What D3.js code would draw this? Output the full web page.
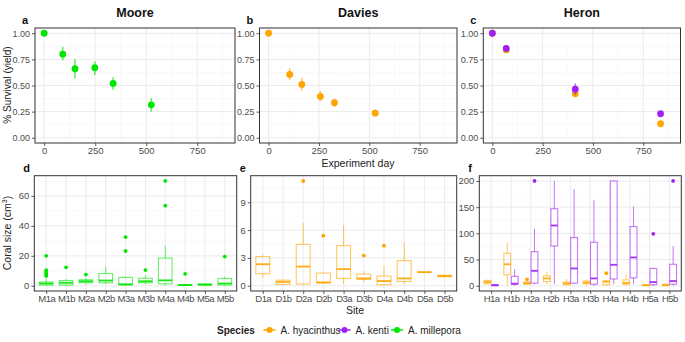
<!DOCTYPE html>
<html><head><meta charset="utf-8">
<script src="https://cdn.jsdelivr.net/npm/d3@7"></script>
<style>
body{margin:0;background:#fff;}
svg{font-family:"Liberation Sans",Arial,Helvetica,sans-serif;}
</style></head>
<body><svg id="c" width="685" height="342"></svg>
<script>
// ---------- DATA ----------
const colHy = "#FFA500", colKe = "#A020F0", colMi = "#00E600";
const dayTicks = [0, 250, 500, 750];
const survTicks = [0, 0.25, 0.5, 0.75, 1.0];
const survTickLabels = ["0.00", "0.25", "0.50", "0.75", "1.00"];

// Moore – A. millepora
const mooreDays = [0, 91, 151, 248, 338, 525];
const mooreMean = [1.00, 0.80, 0.66, 0.67, 0.52, 0.315];
const mooreLo   = [1.00, 0.74, 0.57, 0.60, 0.46, 0.25];
const mooreHi   = [1.00, 0.87, 0.75, 0.73, 0.58, 0.38];
// Davies – A. hyacinthus
const daviesDays = [0, 105, 165, 257, 327, 529];
const daviesMean = [1.00, 0.605, 0.51, 0.395, 0.335, 0.235];
const daviesLo   = [1.00, 0.55, 0.45, 0.35, 0.295, 0.21];
const daviesHi   = [1.00, 0.665, 0.575, 0.45, 0.375, 0.27];
// Heron – both species
const heronDays = [0, 69, 412, 836];
const heronHyMean = [1.00, 0.84, 0.42, 0.135];
const heronHyLo   = [1.00, 0.82, 0.39, 0.12];
const heronHyHi   = [1.00, 0.86, 0.45, 0.15];
const heronKeMean = [1.00, 0.855, 0.465, 0.23];
const heronKeLo   = [1.00, 0.83, 0.41, 0.21];
const heronKeHi   = [1.00, 0.88, 0.52, 0.25];

// Box plots: [lower whisker, q1, median, q3, upper whisker]
const mooreSites = ["M1a","M1b","M2a","M2b","M3a","M3b","M4a","M4b","M5a","M5b"];
const mooreBox = [[0,0.5,1.5,2.5,4.5],[0,0.5,2,3.5,4.5],[1,2,3,4,5],[1,2,3.5,8.2,12.7],[0,0.5,1,5.6,6],
                  [1,2,3,5,7],[0.3,1.3,3.6,18.5,26.8],[0,0.2,0.5,0.8,1],[0.3,0.4,0.8,1.2,1.4],[0,0.5,1.5,4.9,6]];
const mooreOut = [[20,10.5,9.5,8.5,7.5,6.5],[12.3],[7.5],[],[32.5,23.2],[10.5],[70,53.5],[8],[],[19.5]];
const mooreYTicks = [0, 20, 40, 60];

const daviesSites = ["D1a","D1b","D2a","D2b","D3a","D3b","D4a","D4b","D5a","D5b"];
const daviesBox = [[0.9,1.29,2.32,3.14,3.4],[0.1,0.14,0.4,0.6,0.7],[0.1,0.18,2.07,4.46,6.8],[0.25,0.29,0.36,1.36,1.4],
                   [0.18,0.79,1.79,4.32,6.5],[0.4,0.68,0.79,1.25,1.54],[0.05,0.1,0.5,1.04,2.14],[0.18,0.46,0.79,2.71,4.68],
                   [1.44,1.45,1.46,1.48,1.5],[0.95,0.97,1.05,1.13,1.15]];
const daviesOut = [[],[],[11.3],[5.4],[],[3.25],[4.32],[],[],[]];
const daviesYTicks = [0, 3, 6, 9];

const heronSites = ["H1a","H1b","H2a","H2b","H3a","H3b","H4a","H4b","H5a","H5b"];
const heronHyBox = [[3,3.8,7,10,12],[0.6,21,41,62,82],[2,3,5,7,8],[3,8,14,19,26],[0,2,4.5,7,13],
                    [0,4,6,9,12],[0,2,8,9,10],[0,3,5.5,11,22],[0,0.5,1,2,2.5],[0,0.5,1,3,3.5]];
const heronHyOut = [[],[],[12],[],[],[],[24],[],[],[]];
const heronKeBox = [[0,0.3,1,2,2.5],[0,3,4,18,32],[3,5,28.5,65,108],[3,76,115,147,200],[3,5,33,92,184],
                    [0,3,14,83,163],[3,13,40,200,200],[3,15,54,113,151],[0,2,7,33,34],[0,3,9,41,76]];
const heronKeOut = [[],[],[200],[],[],[],[],[],[99],[200]];
const heronYTicks = [0, 50, 100, 150, 200];

const legendLabels = ["A. hyacinthus", "A. kenti", "A. millepora"];
const legendColors = [colHy, colKe, colMi];

// ---------- DRAW ----------
const svg = d3.select("#c");
const tickCol = "#333333", labCol = "#4D4D4D", gridMaj = "#EBEBEB", gridMin = "#F5F5F5";

function frame(g, x0, x1, y0, y1){
  g.append("rect").attr("x",x0).attr("y",y0).attr("width",x1-x0).attr("height",y1-y0).attr("fill","#fff");
}
function border(g, x0, x1, y0, y1){
  g.append("rect").attr("x",x0).attr("y",y0).attr("width",x1-x0).attr("height",y1-y0)
   .attr("fill","none").attr("stroke","#333333").attr("stroke-width",1);
}
function hgrid(g, y, vals, x0, x1, col, w){
  g.selectAll(null).data(vals).join("line").attr("x1",x0).attr("x2",x1)
   .attr("y1",d=>y(d)).attr("y2",d=>y(d)).attr("stroke",col).attr("stroke-width",w);
}
function vgrid(g, xf, vals, y0, y1, col, w){
  g.selectAll(null).data(vals).join("line").attr("y1",y0).attr("y2",y1)
   .attr("x1",d=>xf(d)).attr("x2",d=>xf(d)).attr("stroke",col).attr("stroke-width",w);
}
function styleAxis(a){
  a.select(".domain").remove();
  a.selectAll(".tick line").attr("stroke",tickCol).attr("stroke-width",0.8);
  a.selectAll(".tick text").attr("fill",labCol).attr("font-size","9.5px")
   .attr("font-family","'Liberation Sans',Arial,sans-serif");
}

// Top panels
const topY0 = 28, topY1 = 143;
const yS = d3.scaleLinear().domain([-0.05,1.05]).range([topY1, topY0]);
const topPanels = [
  {x0:35, x1:235, letter:"a", title:"Moore", series:[[mooreDays,mooreMean,mooreLo,mooreHi,colMi]]},
  {x0:259.5, x1:457, letter:"b", title:"Davies", series:[[daviesDays,daviesMean,daviesLo,daviesHi,colHy]]},
  {x0:483.3, x1:680.5, letter:"c", title:"Heron", series:[[heronDays,heronHyMean,heronHyLo,heronHyHi,colHy],
                                                          [heronDays,heronKeMean,heronKeLo,heronKeHi,colKe]]}
];
topPanels.forEach(p=>{
  const g = svg.append("g");
  const xS = d3.scaleLinear().domain([-45,935]).range([p.x0,p.x1]);
  frame(g,p.x0,p.x1,topY0,topY1);
  hgrid(g,yS,[0.125,0.375,0.625,0.875],p.x0,p.x1,gridMin,0.6);
  vgrid(g,xS,[125,375,625,875],topY0,topY1,gridMin,0.6);
  hgrid(g,yS,survTicks,p.x0,p.x1,gridMaj,1);
  vgrid(g,xS,dayTicks,topY0,topY1,gridMaj,1);
  p.series.forEach(([xs,m,lo,hi,col])=>{
    g.selectAll(null).data(xs).join("line")
     .attr("x1",(d)=>xS(d)).attr("x2",(d)=>xS(d))
     .attr("y1",(d,i)=>yS(lo[i])).attr("y2",(d,i)=>yS(hi[i]))
     .attr("stroke",col).attr("stroke-width",1.6).attr("opacity",0.6);
    g.selectAll(null).data(xs).join("circle")
     .attr("cx",d=>xS(d)).attr("cy",(d,i)=>yS(m[i])).attr("r",3.4).attr("fill",col);
  });
  border(g,p.x0,p.x1,topY0,topY1);
  const ax = g.append("g").attr("transform",`translate(0,${topY1})`)
    .call(d3.axisBottom(xS).tickValues(dayTicks).tickSize(3).tickPadding(1.5));
  styleAxis(ax);
  const ay = g.append("g").attr("transform",`translate(${p.x0},0)`)
    .call(d3.axisLeft(yS).tickValues(survTicks).tickFormat((d,i)=>survTickLabels[i]).tickSize(3).tickPadding(2));
  styleAxis(ay);
  ay.selectAll(".tick text").attr("font-size","9px");
  svg.append("text").attr("x",(p.x0+p.x1)/2).attr("y",16.5).attr("text-anchor","middle")
    .attr("font-weight","bold").attr("font-size","12.5px").attr("fill","#111").text(p.title);
  svg.append("text").attr("x",p.x0-13).attr("y",24).attr("font-weight","bold")
    .attr("font-size","11px").attr("fill","#111").text(p.letter);
});
svg.append("text").attr("transform","translate(10.5,85) rotate(-90)").attr("text-anchor","middle")
  .attr("font-size","10px").attr("fill","#222").text("% Survival (yield)");
svg.append("text").attr("x",358).attr("y",166.5).attr("text-anchor","middle")
  .attr("font-size","10.5px").attr("fill","#222").text("Experiment day");

// Bottom panels
const botY0 = 175.7, botY1 = 291;
const botPanels = [
  {x0:34.3, x1:236.7, letter:"d", sites:mooreSites, dom:[-3.5,73.5], ticks:mooreYTicks,
   minor:[10,30,50,70], groups:[{box:mooreBox,out:mooreOut,col:colMi,off:0,w:0.75}]},
  {x0:250.7, x1:456.7, letter:"e", sites:daviesSites, dom:[-0.57,11.87], ticks:daviesYTicks,
   minor:[1.5,4.5,7.5,10.5], groups:[{box:daviesBox,out:daviesOut,col:colHy,off:0,w:0.75}]},
  {x0:479.3, x1:681.3, letter:"f", sites:heronSites, dom:[-10,210], ticks:heronYTicks,
   minor:[25,75,125,175], groups:[{box:heronHyBox,out:heronHyOut,col:colHy,off:-0.1875,w:0.375},
                                  {box:heronKeBox,out:heronKeOut,col:colKe,off:0.1875,w:0.375}]}
];
botPanels.forEach(p=>{
  const g = svg.append("g");
  const xS = d3.scalePoint().domain(p.sites).range([p.x0,p.x1]).padding(0.6);
  const st = xS.step();
  const y = d3.scaleLinear().domain(p.dom).range([botY1,botY0]);
  frame(g,p.x0,p.x1,botY0,botY1);
  hgrid(g,y,p.minor,p.x0,p.x1,gridMin,0.6);
  hgrid(g,y,p.ticks,p.x0,p.x1,gridMaj,1);
  vgrid(g,xS,p.sites,botY0,botY1,gridMaj,1);
  p.groups.forEach(gr=>{
    const bw = gr.w*st*0.92;
    p.sites.forEach((s,i)=>{
      const [lw,q1,md,q3,uw] = gr.box[i];
      const cx = xS(s) + gr.off*st;
      const bg = g.append("g");
      bg.append("line").attr("x1",cx).attr("x2",cx).attr("y1",y(q3)).attr("y2",y(uw))
        .attr("stroke",gr.col).attr("stroke-width",1).attr("opacity",0.6);
      bg.append("line").attr("x1",cx).attr("x2",cx).attr("y1",y(q1)).attr("y2",y(lw))
        .attr("stroke",gr.col).attr("stroke-width",1).attr("opacity",0.6);
      bg.append("rect").attr("x",cx-bw/2).attr("width",bw).attr("y",y(q3))
        .attr("height",Math.max(0.01,y(q1)-y(q3))).attr("fill","none")
        .attr("stroke",gr.col).attr("stroke-width",1.1).attr("opacity",0.6);
      bg.append("line").attr("x1",cx-bw/2).attr("x2",cx+bw/2).attr("y1",y(md)).attr("y2",y(md))
        .attr("stroke",gr.col).attr("stroke-width",1.8).attr("opacity",0.9);
      bg.selectAll(null).data(gr.out[i]).join("circle").attr("cx",cx).attr("cy",d=>y(d))
        .attr("r",1.9).attr("fill",gr.col);
    });
  });
  border(g,p.x0,p.x1,botY0,botY1);
  const ax = g.append("g").attr("transform",`translate(0,${botY1})`)
    .call(d3.axisBottom(xS).tickSize(3).tickPadding(1.5));
  styleAxis(ax);
  ax.selectAll(".tick text").attr("font-size","9.5px").attr("letter-spacing","-0.5px");
  const ay = g.append("g").attr("transform",`translate(${p.x0},0)`)
    .call(d3.axisLeft(y).tickValues(p.ticks).tickSize(3).tickPadding(2));
  styleAxis(ay);
  svg.append("text").attr("x",p.x0-11).attr("y",172).attr("font-weight","bold")
    .attr("font-size","11px").attr("fill","#111").text(p.letter);
});
const cs = svg.append("text").attr("transform","translate(11,233) rotate(-90)").attr("text-anchor","middle")
  .attr("font-size","10.5px").attr("fill","#222");
cs.append("tspan").text("Coral size (cm");
cs.append("tspan").attr("font-size","7px").attr("dy",-4).text("3");
cs.append("tspan").attr("dy",4).text(")");
svg.append("text").attr("x",355).attr("y",313.5).attr("text-anchor","middle")
  .attr("font-size","10.5px").attr("fill","#222").text("Site");

// Legend
const lg = svg.append("g");
lg.append("text").attr("x",217).attr("y",334).attr("font-weight","bold").attr("font-size","10px")
  .attr("fill","#222").text("Species");
const legX = [269.5, 344.5, 397];
legendLabels.forEach((lab,i)=>{
  lg.append("line").attr("x1",legX[i]-6).attr("x2",legX[i]+6).attr("y1",330).attr("y2",330)
    .attr("stroke",legendColors[i]).attr("stroke-width",1.5);
  lg.append("circle").attr("cx",legX[i]).attr("cy",330).attr("r",3).attr("fill",legendColors[i]);
  lg.append("text").attr("x",legX[i]+11).attr("y",334).attr("font-size","10px").attr("fill","#222").text(lab);
});
</script></body></html>
